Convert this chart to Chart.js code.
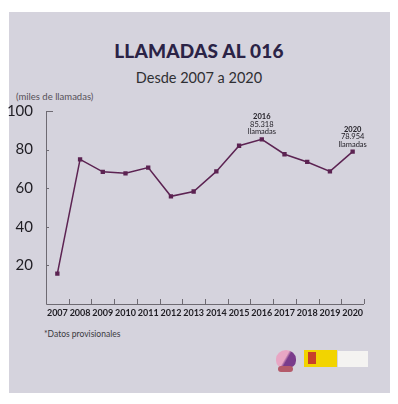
<!DOCTYPE html>
<html>
<head>
<meta charset="utf-8">
<script src="https://cdn.jsdelivr.net/npm/chart.js@4"></script>
<style>
  html, body { margin: 0; padding: 0; background: #ffffff; }
  body { width: 398px; height: 404px; position: relative; overflow: hidden; font-family: 'Lato', sans-serif; }
  #panel { position: absolute; left: 9px; top: 12px; width: 381px; height: 381px; background: #d5d3dd; }
  #chartBox { position: absolute; left: 0; top: 0; width: 398px; height: 404px; }
  .txt { position: absolute; white-space: nowrap; }
  #title { left: 0; width: 398px; top: 39px; text-align: center; font-size: 19px; font-weight: 900; color: #2b2346; letter-spacing: 0.2px; }
  #subtitle { left: 0; width: 398px; top: 69px; text-align: center; font-size: 14.5px; color: #2f2f33; }
  #units { left: 16px; top: 91px; font-size: 9.5px; color: #555058; }
  #note { left: 44px; top: 329px; font-size: 8.5px; color: #3a3a3e; }
  #logo1 { position: absolute; left: 276px; top: 350px; width: 20px; height: 18px; border-radius: 50% 50% 40% 40%;
           background: linear-gradient(120deg, #e8a6c4 0%, #e8a6c4 45%, #7a3c8c 55%, #7a3c8c 100%); }
  #logo1b { position: absolute; left: 278px; top: 366px; width: 15px; height: 6px; background: #b45a6a; border-radius: 3px; }
  #logo2 { position: absolute; left: 304px; top: 350px; width: 33px; height: 17px; background: #f2d400; }
  #logo2b { position: absolute; left: 308px; top: 352px; width: 8px; height: 12px; background: #c8402a; }
  #logo3 { position: absolute; left: 338px; top: 351px; width: 30px; height: 16px; background: #f4f3f1; }
</style>
</head>
<body>
<div id="panel"></div>
<div class="txt" id="title">LLAMADAS AL 016</div>
<div class="txt" id="subtitle">Desde 2007 a 2020</div>
<div class="txt" id="units">(miles de llamadas)</div>
<div class="txt" id="note">*Datos provisionales</div>
<div id="logo1"></div><div id="logo1b"></div>
<div id="logo2"></div><div id="logo2b"></div>
<div id="logo3"></div>
<div id="chartBox"><canvas id="calls_chart" width="398" height="404"></canvas></div>
<script>
// datos (miles de llamadas)
const years = ['2007','2008','2009','2010','2011','2012','2013','2014','2015','2016','2017','2018','2019','2020']
const calls = [15.7, 74.9, 68.5, 67.7, 70.7, 55.8, 58.3, 68.7, 82.0, 85.318, 77.6, 73.6, 68.7, 78.954]
const y_ticks = [20, 40, 60, 80, 100]
// etiquetas sobre los puntos
const notes = [
    {year: '2016', lines: ['2016', '85.318', 'llamadas']},
    {year: '2020', lines: ['2020', '78.954', 'llamadas']}
]

const line_color = '#5c2352'
const axis_color = '#6e6a72'

// ejes dibujados a mano: linea + marcas cortas hacia dentro
const axes_plugin = {
    id: 'axes_plugin',
    afterDraw(chart) {
        const ctx = chart.ctx
        const area = chart.chartArea
        const x = chart.scales.x
        const y = chart.scales.y
        ctx.save()
        ctx.strokeStyle = axis_color
        ctx.lineWidth = 1
        ctx.beginPath()
        ctx.moveTo(area.left + 0.5, y.getPixelForValue(100))
        ctx.lineTo(area.left + 0.5, area.bottom + 0.5)
        ctx.lineTo(area.right, area.bottom + 0.5)
        // marcas del eje y
        y_ticks.forEach(v => {
            const py = Math.round(y.getPixelForValue(v)) + 0.5
            ctx.moveTo(area.left, py)
            ctx.lineTo(area.left + (v === 100 ? 7 : 3), py)
        })
        // marcas del eje x, entre categorias
        for (let i = 0; i < years.length; i++) {
            const px = Math.round(x.getPixelForValue(i) + (x.getPixelForValue(1) - x.getPixelForValue(0)) / 2) + 0.5
            ctx.moveTo(px, area.bottom)
            ctx.lineTo(px, area.bottom - 5)
        }
        ctx.stroke()

        // anotaciones
        ctx.fillStyle = '#1e1b22'
        ctx.textAlign = 'center'
        ctx.textBaseline = 'alphabetic'
        notes.forEach(n => {
            const i = years.indexOf(n.year)
            const px = x.getPixelForValue(i)
            const py = y.getPixelForValue(calls[i])
            n.lines.forEach((t, k) => {
                ctx.font = (k === 0 ? 'bold ' : '') + '7.5px "Liberation Sans Narrow", "Lato", sans-serif'
                ctx.fillText(t, px, py - 5 - (n.lines.length - 1 - k) * 7.5)
            })
        })
        ctx.restore()
    }
}

let calls_document = document.getElementById('calls_chart').getContext('2d')

let calls_chart = new Chart(calls_document, {
    type: 'line',
    data: {
        labels: years,
        datasets: [{
            label: 'Llamadas al 016',
            data: calls,
            borderColor: line_color,
            backgroundColor: line_color,
            borderWidth: 1.5,
            pointStyle: 'rect',
            pointRadius: 2,
            tension: 0
        }]
    },
    options: {
        responsive: false,
        animation: false,
        layout: {padding: {left: 0, top: 111, right: 34, bottom: 80}},
        plugins: {legend: {display: false}, tooltip: {enabled: false}},
        scales: {
            x: {
                type: 'category',
                offset: true,
                border: {display: false},
                grid: {display: false, drawTicks: false},
                afterFit: (s) => { s.height = 20 },
                ticks: {
                    color: '#1f1d23',
                    padding: 4,
                    maxRotation: 0,
                    autoSkip: false,
                    font: {family: 'Lato', size: 9, weight: 'bold'}
                }
            },
            y: {
                min: 0,
                max: 100,
                border: {display: false},
                grid: {display: false},
                afterFit: (s) => { s.width = 46 },
                ticks: {
                    stepSize: 20,
                    color: '#1f1d23',
                    padding: 5,
                    font: {family: 'Lato', size: 15},
                    callback: (v) => v === 0 ? '' : v
                }
            }
        }
    },
    plugins: [axes_plugin]
})
</script>
</body>
</html>
